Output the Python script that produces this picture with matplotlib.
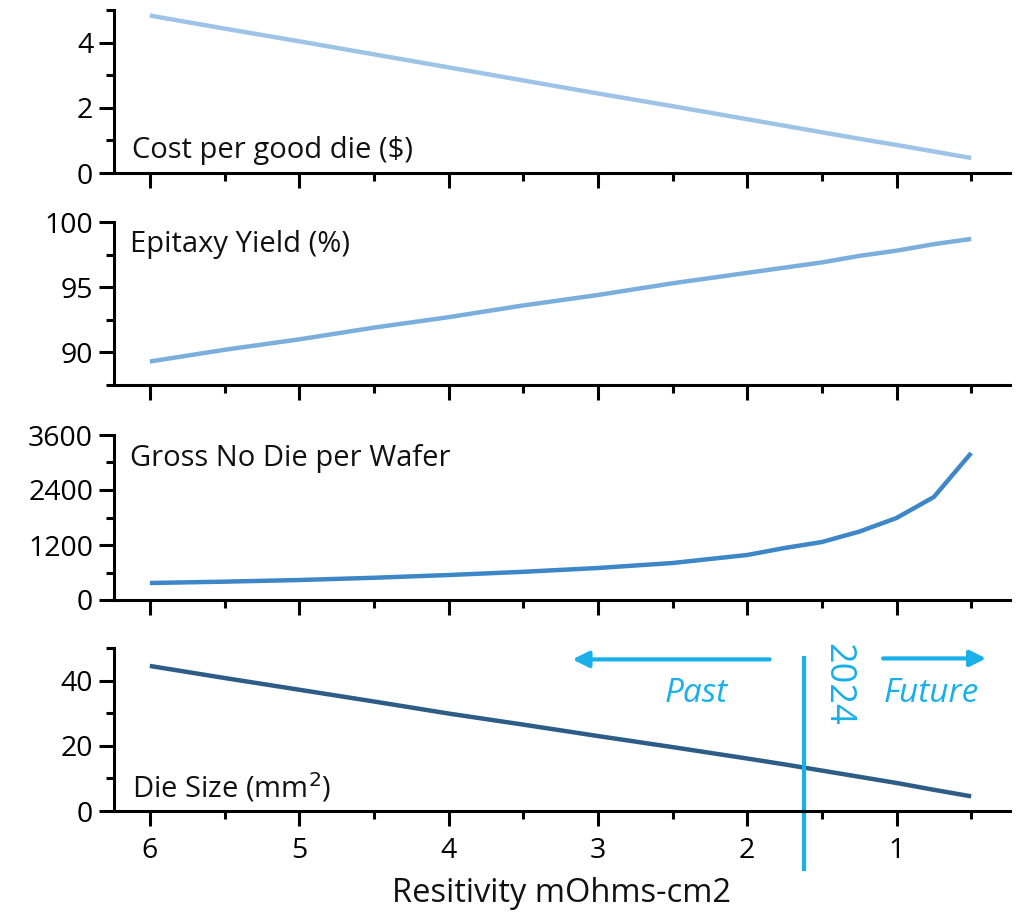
import matplotlib
matplotlib.use("Agg")
import matplotlib.pyplot as plt
from matplotlib.ticker import MultipleLocator

# Resistivity (mOhms-cm2) sampling points, shared by all panels
resistivity = [6.0, 5.5, 5.0, 4.5, 4.0, 3.5, 3.0, 2.5, 2.0, 1.75, 1.5, 1.25, 1.0, 0.75, 0.5]

cost_per_good_die = [4.83, 4.43, 4.04, 3.64, 3.24, 2.84, 2.44, 2.05, 1.65, 1.45, 1.25, 1.05, 0.86, 0.66, 0.46]
epitaxy_yield = [89.3, 90.2, 91.0, 91.9, 92.7, 93.6, 94.4, 95.3, 96.1, 96.5, 96.9, 97.4, 97.8, 98.3, 98.7]
gross_die_per_wafer = [371, 400, 436, 485, 545, 615, 698, 807, 982, 1134, 1265, 1491, 1789, 2247, 3207]
die_size = [44.5, 40.8, 37.2, 33.6, 29.9, 26.5, 23.0, 19.6, 16.1, 14.3, 12.4, 10.5, 8.6, 6.5, 4.5]

panel_labels = ["Cost per good die ($)", "Epitaxy Yield (%)", "Gross No Die per Wafer",
                "Die Size (mm$^2$)"]
x_label = "Resitivity mOhms-cm2"
year_marker = 1.62
year_text = "2024"

plt.rcParams["font.family"] = ["Open Sans", "DejaVu Sans"]

W, H = 1018, 922
fig = plt.figure(figsize=(W / 100, H / 100), dpi=100)

def frac(top, bottom):
    return [114 / W, 1 - bottom / H, (1010 - 114) / W, (bottom - top) / H]

panels = [
    dict(data=cost_per_good_die, color="#9DC3E6", rect=frac(10, 173), ylim=(0, 5),
         major=2, minor=1, label_pos=(0.02, 0.05)),
    dict(data=epitaxy_yield, color="#7AAFDD", rect=frac(222, 385), ylim=(87.5, 100),
         major=5, minor=2.5, label_pos=(0.018, 0.77)),
    dict(data=gross_die_per_wafer, color="#3D87C9", rect=frac(435, 600), ylim=(0, 3600),
         major=1200, minor=600, label_pos=(0.018, 0.77)),
    dict(data=die_size, color="#2D5D86", rect=frac(648, 811), ylim=(0, 50),
         major=20, minor=10, label_pos=(0.02, 0.04)),
]

axes = []
for i, p in enumerate(panels):
    ax = fig.add_axes(p["rect"])
    ax.plot(resistivity, p["data"], color=p["color"], lw=3.2, solid_capstyle="butt")
    ax.set_xlim(6.24, 0.24)
    ax.set_ylim(*p["ylim"])
    ax.yaxis.set_major_locator(MultipleLocator(p["major"]))
    ax.yaxis.set_minor_locator(MultipleLocator(p["minor"]))
    ax.xaxis.set_major_locator(MultipleLocator(1))
    ax.xaxis.set_minor_locator(MultipleLocator(0.5))
    for s in ("top", "right"):
        ax.spines[s].set_visible(False)
    for s in ("left", "bottom"):
        ax.spines[s].set_linewidth(2.2)
        ax.spines[s].set_color("black")
    ax.tick_params(which="major", direction="out", length=11, width=2.2, labelsize=20.5,
                   pad=4, colors="black")
    ax.tick_params(which="minor", direction="out", length=6, width=2.2)
    if i < 3:
        ax.tick_params(axis="x", labelbottom=False)
    else:
        ax.tick_params(axis="x", pad=8)
    ax.text(p["label_pos"][0], p["label_pos"][1], panel_labels[i],
            transform=ax.transAxes, fontsize=21, ha="left", va="bottom", color="#111111")
    ax.patch.set_alpha(0)
    axes.append(ax)

axes[-1].set_xlabel(x_label, fontsize=23.5, labelpad=8, color="#111111")

# Timeline annotation on the die-size panel
accent = "#19AFE8"
ax = axes[-1]
ax.plot([year_marker, year_marker], [47.4, -18.5], color=accent, lw=3, clip_on=False,
        solid_capstyle="butt")
ax.text(year_marker - 0.1, 51.5, year_text, rotation=-90, color=accent, fontsize=26,
        ha="left", va="top")
ax.annotate("", xy=(3.17, 46.5), xytext=(1.85, 46.5),
            arrowprops=dict(arrowstyle="-|>", color=accent, lw=3, mutation_scale=24,
                            shrinkA=0, shrinkB=0))
ax.annotate("", xy=(0.40, 46.8), xytext=(1.09, 46.8),
            arrowprops=dict(arrowstyle="-|>", color=accent, lw=3, mutation_scale=24,
                            shrinkA=0, shrinkB=0), annotation_clip=False)
ax.text(2.34, 36.0, "Past", color=accent, fontsize=24, style="italic", ha="center", va="center")
ax.text(0.77, 36.0, "Future", color=accent, fontsize=24, style="italic", ha="center",
        va="center")

fig.savefig("out.png", dpi=100, facecolor="white")
